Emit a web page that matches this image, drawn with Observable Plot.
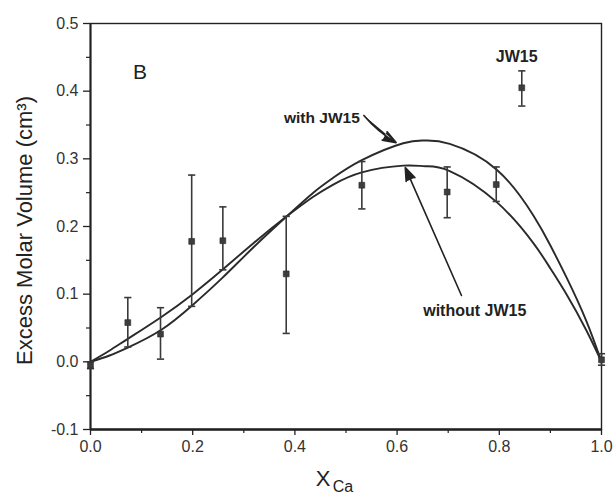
<!DOCTYPE html>
<html>
<head>
<meta charset="utf-8">
<script src="https://cdn.jsdelivr.net/npm/d3@7"></script>
<script src="https://cdn.jsdelivr.net/npm/@observablehq/plot@0.6"></script>
<style>
  html, body { margin: 0; padding: 0; background: #fff; }
</style>
</head>
<body>
<div id="chart"></div>
<script>
// Measured points (X_Ca, excess molar volume) with error bars
const ptX  = [0.000, 0.073, 0.137, 0.198, 0.259, 0.383, 0.531, 0.698, 0.794, 0.844, 1.000];
const ptY  = [-0.005, 0.058, 0.041, 0.178, 0.179, 0.130, 0.261, 0.251, 0.262, 0.405, 0.003];
const ptLo = [-0.010, 0.022, 0.004, 0.082, 0.136, 0.042, 0.226, 0.213, 0.237, 0.378, -0.005];
const ptHi = [0.000, 0.095, 0.080, 0.276, 0.229, 0.215, 0.296, 0.288, 0.288, 0.430, 0.012];

// Fitted curves
const curveX   = [0, 0.036, 0.073, 0.138, 0.200, 0.258, 0.320, 0.384, 0.436, 0.475, 0.531, 0.612, 0.655, 0.703, 0.795, 0.867, 0.900, 0.932, 0.970, 1.000];
const withY    = [0, 0.009, 0.021, 0.047, 0.084, 0.124, 0.170, 0.215, 0.250, 0.272, 0.298, 0.323, 0.327, 0.322, 0.284, 0.216, 0.172, 0.124, 0.061, 0];
const withoutY = [0, 0.016, 0.034, 0.066, 0.100, 0.136, 0.176, 0.215, 0.244, 0.262, 0.280, 0.290, 0.289, 0.282, 0.236, 0.175, 0.138, 0.099, 0.047, 0];

// Axis ticks
const xTicks = [0, 0.2, 0.4, 0.6, 0.8, 1.0];
const xMinor = [0.1, 0.3, 0.5, 0.7, 0.9];
const yTicks = [-0.1, 0, 0.1, 0.2, 0.3, 0.4, 0.5];
const yMinor = [-0.05, 0.05, 0.15, 0.25, 0.35, 0.45];

// Annotations (data units)
const annWith    = {text: "with JW15", x: 0.527, y: 0.361, x1: 0.535, y1: 0.364, x2: 0.598, y2: 0.324};
const annWithout = {text: "without JW15", x: 0.752, y: 0.076, x1: 0.726, y1: 0.098, x2: 0.616, y2: 0.287};
const annJW      = {text: "JW15", x: 0.834, y: 0.450};
const annB       = {text: "B", x: 0.083, y: 0.428};

const points = ptX.map((x, i) => ({x, y: ptY[i], lo: ptLo[i], hi: ptHi[i]}));
const curves = [
  ...curveX.map((x, i) => ({x, y: withY[i], s: "with"})),
  ...curveX.map((x, i) => ({x, y: withoutY[i], s: "without"}))
];

const capSymbol = {
  draw(ctx, size) {
    const w = Math.sqrt(size / Math.PI);
    ctx.moveTo(-w, 0);
    ctx.lineTo(w, 0);
  }
};

const ink = "#222";
const font = "'Liberation Sans', Arial, Helvetica, sans-serif";
const fmt = d => d.toFixed(1);

const chart = Plot.plot({
  width: 615,
  height: 495,
  marginLeft: 90,
  marginRight: 14,
  marginTop: 23,
  marginBottom: 66,
  style: {fontFamily: font, fontSize: "16px", color: ink, background: "#fff"},
  x: {domain: [0, 1]},
  y: {domain: [-0.1, 0.5]},
  marks: [
    Plot.frame({stroke: ink, strokeWidth: 1.4}),
    Plot.ruleY([-0.1], {stroke: ink, strokeWidth: 2.4}),
    Plot.ruleX([0], {stroke: ink, strokeWidth: 2}),
    Plot.axisX({ticks: xTicks, tickFormat: fmt, tickSize: 6, tickPadding: 5, fontSize: 16, label: null, stroke: ink, fill: "#333", strokeWidth: 1.3}),
    Plot.axisX({ticks: xMinor, text: null, tickSize: 4, label: null, stroke: ink, strokeWidth: 1.2}),
    Plot.axisY({ticks: yTicks, tickFormat: fmt, tickSize: 7, tickPadding: 5, fontSize: 16, label: null, stroke: ink, fill: "#333", strokeWidth: 1.3}),
    Plot.axisY({ticks: yMinor, text: null, tickSize: 4, label: null, stroke: ink, strokeWidth: 1.2}),
    // curves
    Plot.line(curves, {x: "x", y: "y", z: "s", curve: "natural", stroke: "#2a2a2a", strokeWidth: 1.9}),
    // error bars
    Plot.ruleX(points, {x: "x", y1: "lo", y2: "hi", stroke: "#3a3a3a", strokeWidth: 1.6}),
    Plot.dot(points, {x: "x", y: "lo", symbol: capSymbol, r: 3.6, stroke: "#3a3a3a", strokeWidth: 1.6}),
    Plot.dot(points, {x: "x", y: "hi", symbol: capSymbol, r: 3.6, stroke: "#3a3a3a", strokeWidth: 1.6}),
    Plot.dot(points, {x: "x", y: "y", symbol: "square", r: 3.3, fill: "#3d3d3d", stroke: "#2a2a2a", strokeWidth: 0.6}),
    // annotations
    Plot.arrow([annWith], {x1: "x1", y1: "y1", x2: "x2", y2: "y2", bend: -10, headLength: 13, headAngle: 40, stroke: ink, fill: ink, strokeWidth: 1.7}),
    Plot.arrow([annWithout], {x1: "x1", y1: "y1", x2: "x2", y2: "y2", headLength: 13, headAngle: 40, stroke: ink, fill: ink, strokeWidth: 1.6}),
    Plot.text([annWith], {x: "x", y: "y", text: "text", textAnchor: "end", fontWeight: "bold", fontSize: 15.5, fill: ink}),
    Plot.text([annWithout], {x: "x", y: "y", text: "text", textAnchor: "middle", fontWeight: "bold", fontSize: 16, fill: ink}),
    Plot.text([annJW], {x: "x", y: "y", text: "text", textAnchor: "middle", fontWeight: "bold", fontSize: 16, fill: ink}),
    Plot.text([annB], {x: "x", y: "y", text: "text", textAnchor: "start", fontSize: 21, fill: ink}),
    // axis titles
    Plot.text(["Excess Molar Volume (cm³)"], {frameAnchor: "left", textAnchor: "middle", lineAnchor: "middle", rotate: -90, dx: -66, dy: 4, fontSize: 22, fill: ink}),
    Plot.text(["X"], {frameAnchor: "bottom", dx: -23, dy: 56, fontSize: 22, fill: ink}),
    Plot.text(["Ca"], {frameAnchor: "bottom", dx: -3, dy: 62, fontSize: 16, fill: ink})
  ]
});

document.getElementById("chart").appendChild(chart);
</script>
</body>
</html>
